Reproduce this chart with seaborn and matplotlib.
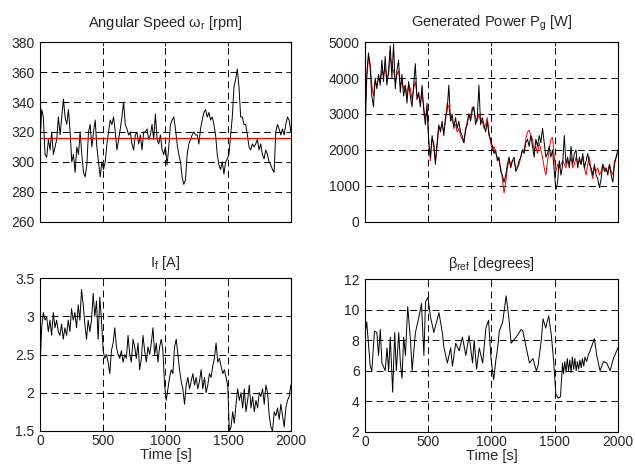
import numpy as np
import matplotlib
matplotlib.use('Agg')
import matplotlib.pyplot as plt
import seaborn as sns

# valores (amostras aproximadamente igualmente espacadas em 0..2000 s)
velocidade = [310, 335, 330, 305, 303, 315, 308, 320, 305, 310, 315, 330, 318, 330, 342, 330,
              325, 335, 320, 300, 305, 293, 310, 305, 320, 305, 293, 290, 298, 320, 325, 310,
              320, 328, 310, 300, 290, 300, 295, 300, 312, 320, 328, 325, 330, 320, 308, 315,
              322, 330, 340, 325, 322, 318, 320, 312, 308, 318, 320, 312, 318, 308, 320, 320,
              322, 315, 318, 325, 315, 332, 315, 312, 318, 308, 305, 310, 298, 310, 325, 328,
              330, 322, 312, 305, 300, 290, 285, 288, 305, 312, 315, 318, 320, 318, 318, 312,
              322, 328, 333, 335, 330, 333, 328, 330, 325, 318, 305, 298, 295, 300, 292, 300,
              302, 305, 318, 330, 350, 355, 362, 350, 330, 330, 325, 325, 318, 310, 308, 312,
              310, 312, 315, 308, 312, 305, 302, 308, 305, 300, 298, 295, 293, 320, 325, 322,
              318, 322, 318, 325, 330, 328, 320]
velocidade_ref = 316

potencia_medida = [2400, 4100, 4700, 4300, 3500, 3200, 4000, 3700, 4100, 3800, 4500, 3900, 4600,
                   3800, 4200, 4900, 4000, 4950, 3700, 4200, 4500, 3600, 4100, 3500, 3800, 3300,
                   3900, 3500, 3200, 3800, 4400, 3400, 3600, 3200, 3800, 3100, 2700, 3300, 2200,
                   1800, 2400, 2100, 1600, 2200, 2700, 2500, 2800, 2400, 2900, 3100, 3800, 2800,
                   3000, 2600, 2900, 2600, 2800, 2500, 2400, 2200, 2600, 2700, 3000, 2800, 3100,
                   3200, 2700, 2900, 3800, 2700, 2900, 2700, 2500, 2800, 2400, 2300, 2100, 1900,
                   2000, 1700, 1800, 1400, 1300, 1100, 1300, 1600, 1800, 1500, 1700, 1800, 1400,
                   1500, 1700, 1800, 2000, 1900, 2200, 2300, 2100, 2400, 2100, 1800, 2300, 2100,
                   2400, 2200, 2600, 2200, 1800, 1900, 2100, 1800, 2000, 1400, 900, 1100, 1700,
                   1300, 1600, 2400, 1600, 1800, 1500, 2100, 1600, 1900, 2000, 1500, 1800, 1600,
                   1900, 1500, 1700, 1900, 1600, 1500, 1300, 1600, 1300, 1200, 950, 1200, 1600,
                   1400, 1500, 1300, 1600, 1300, 1100, 1600, 1800, 2000]
potencia_estimada = [3200, 4000, 4600, 4400, 3800, 3500, 3900, 3800, 4000, 3900, 4200, 4100, 4300,
                     4000, 4100, 4600, 4300, 4200, 3900, 4100, 4200, 3800, 3900, 3700, 3800, 3500,
                     3800, 3700, 3400, 3700, 3900, 3500, 3500, 3300, 3600, 3200, 2900, 3100, 2300,
                     1700, 2300, 2200, 1700, 2100, 2600, 2600, 2700, 2500, 2800, 3300, 3200, 2900,
                     2800, 2700, 2700, 2500, 2600, 2400, 2300, 2200, 2500, 2800, 3000, 2900, 3200,
                     3100, 2900, 2800, 3000, 2800, 2800, 2600, 2700, 2900, 2500, 2200, 2000, 2100,
                     1900, 1800, 1700, 1500, 1200, 800, 1100, 1500, 1700, 1600, 1700, 1700, 1500,
                     1500, 1600, 1800, 2000, 2000, 2300, 2500, 2550, 2400, 2300, 2000, 2100, 1900,
                     2200, 2000, 1800, 1500, 1300, 1700, 2000, 2300, 2350, 1800, 1400, 1600, 1500,
                     1600, 1700, 1600, 1500, 1700, 1600, 1800, 1500, 1600, 1800, 1600, 1700, 1600,
                     1800, 1500, 1300, 1600, 1800, 1400, 1200, 1500, 1400, 1500, 1300, 1400, 1600,
                     1500, 1400, 1400, 1600, 1400, 1300, 1700, 1800, 1900]

corrente = [2.3, 2.85, 3.05, 2.95, 3.0, 2.8, 2.95, 2.75, 3.05, 2.85, 2.95, 2.8, 2.75, 2.9, 2.7,
            2.85, 2.75, 2.95, 2.8, 3.1, 2.95, 3.05, 2.85, 3.15, 2.95, 3.35, 3.15, 2.9, 2.7, 2.95,
            2.8, 2.95, 3.3, 3.0, 3.2, 2.7, 3.25, 2.95,
            2.55, 2.45, 2.5, 2.4, 2.25, 2.55, 2.65, 2.85, 2.6, 2.5, 2.45, 2.55, 2.4, 2.5, 2.45,
            2.75, 2.5, 2.4, 2.7, 2.6, 2.45, 2.65, 2.3, 2.45, 2.75, 2.55, 2.4, 2.6, 2.5, 2.65,
            2.85, 2.5, 2.65, 2.4, 2.6, 2.7, 2.55, 2.1, 1.9, 2.05, 2.2, 2.3, 2.25, 2.6, 2.7, 2.5,
            2.3, 2.15, 2.05, 1.85, 2.1, 2.2, 2.05, 2.15, 2.25, 2.1, 2.2, 2.05, 2.15, 2.3, 2.05,
            2.2, 2.0, 2.1, 2.25, 2.2, 2.35, 2.45, 2.65, 2.4, 2.45, 2.35, 2.25, 2.3, 2.2, 2.1,
            1.5, 1.55, 1.75, 1.6, 1.85, 2.05, 1.9, 2.0, 1.8, 2.05, 1.75, 1.9, 2.1, 1.8, 1.95,
            1.75, 1.9, 1.8, 2.0, 1.95, 2.05, 1.85, 2.1, 2.0, 1.7, 1.55, 1.5, 1.75, 1.7, 1.8,
            1.65, 1.85, 1.7, 1.55, 1.8, 1.9, 1.95, 2.1]

beta_t = [0, 13, 40, 53, 74, 93, 106, 120, 133, 159, 173, 186, 199, 218, 234, 247, 266, 279, 292,
          305, 319, 337, 359, 372, 398, 425, 446, 465, 478, 497, 518, 544, 584, 611, 624, 651,
          677, 691, 717, 744, 770, 797, 823, 850, 863, 882, 903, 930, 956, 977, 996, 1017, 1036,
          1049, 1062, 1089, 1116, 1137, 1155, 1195, 1235, 1248, 1275, 1301, 1328, 1355, 1368,
          1394, 1408, 1429, 1453, 1474, 1493, 1509, 1527, 1546, 1562, 1570, 1580, 1590, 1600,
          1610, 1620, 1630, 1640, 1650, 1660, 1670, 1680, 1690, 1700, 1710, 1720, 1730, 1740,
          1753, 1765, 1780, 1814, 1833, 1859, 1886, 1912, 1939, 1965, 2000]
beta = [8.5, 9.2, 6.3, 6.0, 8.6, 8.5, 7.0, 8.7, 6.5, 6.0, 7.5, 6.0, 8.2, 4.6, 8.5, 6.0, 8.5,
        6.5, 5.5, 8.2, 7.0, 10.2, 8.0, 6.0, 8.5, 9.5, 10.4, 7.0, 10.5, 10.8, 9.5, 8.5, 9.8, 8.5,
        7.5, 6.5, 7.5, 6.3, 7.8, 7.3, 8.2, 7.0, 8.3, 6.5, 8.0, 6.1, 7.5, 6.5, 8.8, 9.3, 6.8,
        5.4, 6.8, 7.5, 8.6, 9.2, 10.9, 9.5, 7.8, 8.2, 8.7, 8.6, 7.5, 6.5, 6.8, 6.0, 6.3, 8.0,
        9.4, 8.8, 9.6, 8.3, 6.5, 4.5, 4.2, 4.3, 6.5, 5.8, 6.6, 5.9, 6.8, 6.0, 6.7, 5.9, 6.9,
        6.1, 6.8, 6.0, 6.6, 6.1, 6.7, 6.2, 6.8, 6.3, 6.9, 6.6, 7.0, 7.3, 8.1, 7.0, 6.0, 6.6,
        6.5, 6.0, 6.8, 7.5]

sns.set_style('white')
plt.rcParams['font.family'] = ['Liberation Sans', 'DejaVu Sans']
plt.rcParams['mathtext.fontset'] = 'custom'
plt.rcParams['mathtext.rm'] = 'Liberation Sans'
plt.rcParams['mathtext.it'] = 'Liberation Sans:italic'
plt.rcParams['font.size'] = 10

fig = plt.figure(figsize=(6.35, 4.73), dpi=100)
ax1 = fig.add_axes([0.063, 0.531, 0.395, 0.380])
ax2 = fig.add_axes([0.575, 0.531, 0.398, 0.380])
ax3 = fig.add_axes([0.063, 0.089, 0.395, 0.323])
ax4 = fig.add_axes([0.575, 0.087, 0.398, 0.323])

lw = 0.7
fs_titulo = 10.5
t1 = np.linspace(0, 2000, len(velocidade))
sns.lineplot(x=t1, y=velocidade, ax=ax1, color='k', linewidth=lw)
ax1.axhline(velocidade_ref, color='red', linewidth=0.9)
ax1.set_ylim(260, 380)
ax1.set_yticks([260, 280, 300, 320, 340, 360, 380])
ax1.set_title('Angular Speed ω$_\\mathrm{r}$ [rpm]', fontsize=fs_titulo, pad=11)

t2 = np.linspace(0, 2000, len(potencia_medida))
sns.lineplot(x=t2, y=potencia_estimada, ax=ax2, color='red', linewidth=lw)
sns.lineplot(x=t2, y=potencia_medida, ax=ax2, color='k', linewidth=lw)
ax2.set_ylim(0, 5000)
ax2.set_yticks([0, 1000, 2000, 3000, 4000, 5000])
ax2.set_title('Generated Power P$_\\mathrm{g}$ [W]', fontsize=fs_titulo, pad=11)

t3 = np.linspace(0, 2000, len(corrente))
sns.lineplot(x=t3, y=corrente, ax=ax3, color='k', linewidth=lw)
ax3.set_ylim(1.5, 3.5)
ax3.set_yticks([1.5, 2, 2.5, 3, 3.5])
ax3.set_yticklabels(['1.5', '2', '2.5', '3', '3.5'])
ax3.set_title('I$_\\mathrm{f}$ [A]', fontsize=fs_titulo, pad=8)

sns.lineplot(x=beta_t, y=beta, ax=ax4, color='k', linewidth=lw)
ax4.set_ylim(2, 12)
ax4.set_yticks([2, 4, 6, 8, 10, 12])
ax4.set_title('β$_\\mathrm{ref}$ [degrees]', fontsize=fs_titulo, pad=8)

for ax in [ax1, ax2, ax3, ax4]:
    ax.set_xlim(0, 2000)
    ax.set_xticks([0, 500, 1000, 1500, 2000])
    ax.grid(True, color='k', linestyle=(0, (7, 4.5)), linewidth=0.7)
    ax.tick_params(direction='in', length=3, top=True, right=True, labelsize=10, pad=4)
    for s in ax.spines.values():
        s.set_color('k')
        s.set_linewidth(0.8)
    ax.set_xlabel('')
    ax.set_ylabel('')

for ax in [ax1, ax2]:
    ax.set_xticklabels([])
for ax in [ax3, ax4]:
    ax.tick_params(axis='x', pad=2)
    ax.set_xlabel('Time [s]', fontsize=10.5, labelpad=0)

fig.savefig('out.png', dpi=100)
